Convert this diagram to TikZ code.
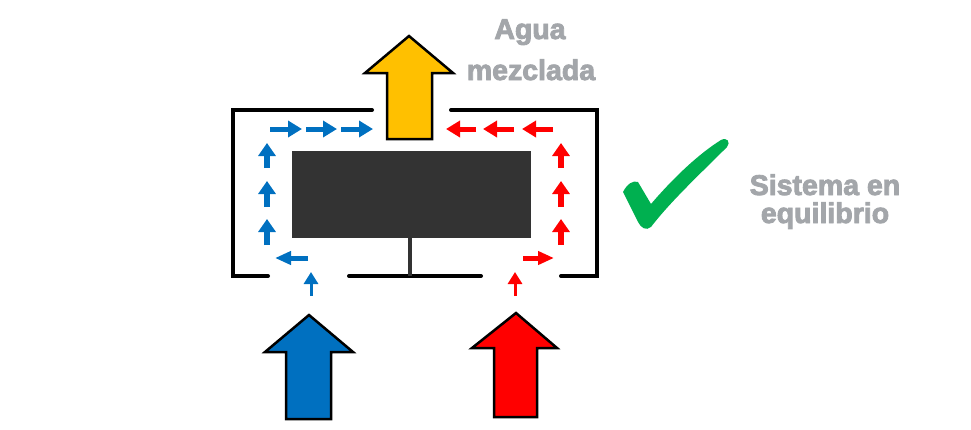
\documentclass[tikz,border=0pt]{standalone}
\usepackage{fontspec}
\setmainfont{Liberation Sans}
\newfontfamily\heavyfont{Liberation Sans}[UprightFont=* Bold, FakeBold=3]
\usetikzlibrary{arrows.meta}
\definecolor{cblue}{HTML}{0070C0}
\definecolor{cred}{HTML}{FF0000}
\definecolor{cyellow}{HTML}{FFC000}
\definecolor{cgreen}{HTML}{00B050}
\definecolor{cdark}{HTML}{333333}
\definecolor{cgray}{RGB}{163,166,170}
\tikzset{
  wall/.style={line width=4pt, line cap=round, line join=miter},
  bigarrow/.style={draw=black, line width=2.5pt, line join=miter},
  flowh/.style={line width=5pt, -{Triangle[length=14pt,width=16pt]}},
  flowv/.style={line width=5.5pt, -{Triangle[length=13pt,width=17pt]}},
  flowb/.style={line width=5pt, -{Triangle[length=16pt,width=13pt]}},
  flows/.style={line width=3pt, -{Triangle[length=12pt,width=14pt]}},
  label/.style={text=cgray, font=\heavyfont\fontsize{28.5}{28.5}\selectfont, anchor=base, inner sep=0pt}
}
\begin{document}
\begin{tikzpicture}[x=1pt,y=-1pt]
\useasboundingbox (0,0) rectangle (971,429);
% container
\draw[wall] (372,110) -- (233,110) -- (233,276) -- (268,276);
\draw[wall] (451,110) -- (597,110) -- (597,276) -- (561,276);
\draw[wall] (349,276) -- (481,276);
% heater block
\fill[cdark] (292,151) rectangle (531,238);
\draw[cdark, line width=4pt] (410,238) -- (410,276);
% big arrows
\filldraw[bigarrow, fill=cyellow] (409,36) -- (453,73) -- (432,73) -- (432,139) -- (387,139) -- (387,73) -- (365,73) -- cycle;
\filldraw[bigarrow, fill=cblue] (309,315) -- (353,352) -- (331,352) -- (331,419) -- (286,419) -- (286,352) -- (265,352) -- cycle;
\filldraw[bigarrow, fill=cred] (516,313) -- (557,348) -- (537,348) -- (537,417) -- (494,417) -- (494,348) -- (472,348) -- cycle;
% blue flow
\draw[flowh, cblue] (270,129) -- (302,129);
\draw[flowh, cblue] (306,129) -- (337,129);
\draw[flowh, cblue] (341,129) -- (373,129);
\draw[flowv, cblue] (267,168) -- (267,143);
\draw[flowv, cblue] (267,207) -- (267,181);
\draw[flowv, cblue] (267,245) -- (267,219);
\draw[flowb, cblue] (308,258) -- (275,258);
\draw[flows, cblue] (311,296) -- (311,272);
% red flow
\draw[flowh, cred] (553,129) -- (522,129);
\draw[flowh, cred] (514,129) -- (483,129);
\draw[flowh, cred] (476,129) -- (446,129);
\draw[flowv, cred] (561,168) -- (561,143);
\draw[flowv, cred] (561,207) -- (561,181);
\draw[flowv, cred] (561,245) -- (561,219);
\draw[flowb, cred] (523,258) -- (554,258);
\draw[flows, cred] (515,296) -- (515,272);
% check mark
\fill[cgreen] (623,192) .. controls (627,184) and (633,180) .. (638,182) -- (651,204)
  .. controls (675,176) and (700,153) .. (721,140) .. controls (727,137) and (731,142) .. (727,147)
  .. controls (700,174) and (670,202) .. (651,227) .. controls (646,231) and (641,228) .. (638,222) -- cycle;
% texts
\node[label] (agua) at (530,39) {Agua};
\node[label] (mezc) at (531,80) {mezclada};
\node[label] (sist) at (825,195) {Sistema en};
\node[label] (equi) at (825,223) {equilibrio};
\end{tikzpicture}
\end{document}
